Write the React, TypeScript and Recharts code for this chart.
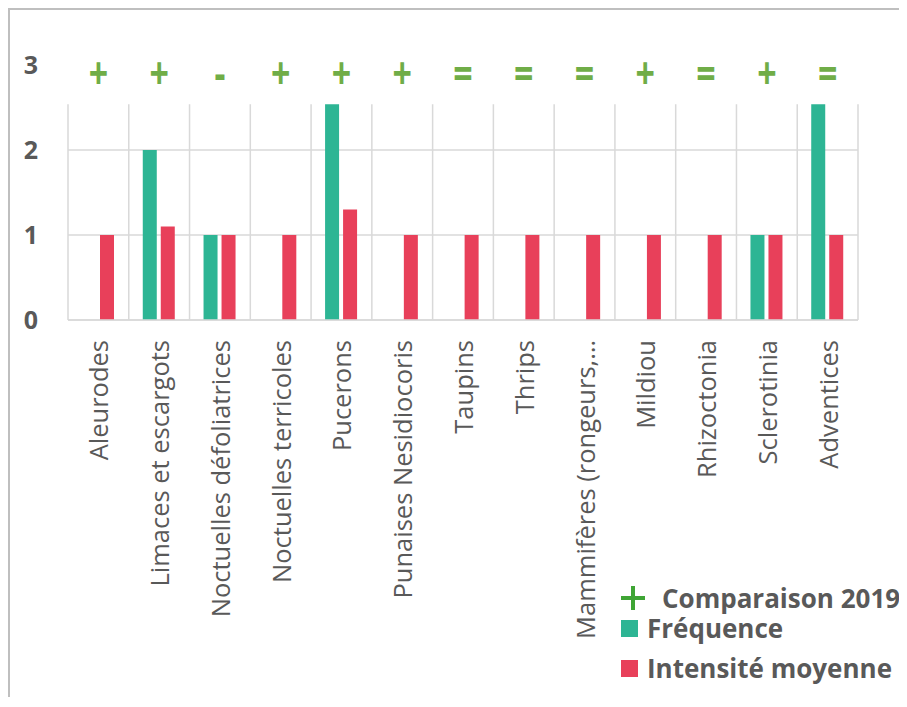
import React from "react";
import {
  ComposedChart,
  Bar,
  Scatter,
  XAxis,
  YAxis,
  CartesianGrid,
  ReferenceArea,
  Legend,
} from "recharts";

const categories = [
  "Aleurodes",
  "Limaces et escargots",
  "Noctuelles défoliatrices",
  "Noctuelles terricoles",
  "Pucerons",
  "Punaises Nesidiocoris",
  "Taupins",
  "Thrips",
  "Mammifères (rongeurs,…",
  "Mildiou",
  "Rhizoctonia",
  "Sclerotinia",
  "Adventices",
];
const frequence = [0, 2, 1, 0, 3, 0, 0, 0, 0, 0, 0, 1, 3];
const intensite = [1, 1.1, 1, 1, 1.3, 1, 1, 1, 1, 1, 1, 1, 1];
const comparaison = ["+", "+", "-", "+", "+", "+", "=", "=", "=", "+", "=", "+", "="];
const yTicks = [0, 1, 2, 3];

const Y_MAX = 3;
// the band holding the +/=/- markers hides the plot above this value
const PLOT_TOP = 2.55;

const data = categories.map((name, i) => ({
  name,
  frequence: frequence[i],
  intensite: intensite[i],
  comparaison: comparaison[i],
}));

const TEAL = "#2db594";
const RED = "#e8405a";
const GREEN = "#70ad47";
const LEGEND_GREEN = "#3fa535";
const TEXT = "#595959";
const GRID = "#d9d9d9";
const FONT = "'Open Sans', sans-serif";

function ClippedBar(props: any) {
  const { x, y, width, height, fill, background } = props;
  if (!height || height <= 0) return null;
  let top = y;
  if (background && background.height) {
    const capY = background.y + background.height * (1 - PLOT_TOP / Y_MAX);
    top = Math.max(y, capY);
  }
  return <rect x={x} y={top} width={width} height={y + height - top} fill={fill} />;
}

function MarkerShape(props: any) {
  const { cx, cy, payload } = props;
  if (cx == null || cy == null) return null;
  return (
    <text
      transform={`translate(${cx},${cy + 7}) scale(1,1.3)`}
      textAnchor="middle"
      dominantBaseline="central"
      fontFamily={FONT}
      fontWeight={700}
      fontSize={34}
      fill={GREEN}
    >
      {payload.comparaison}
    </text>
  );
}

function YTick({ x, y, payload }: any) {
  return (
    <text
      x={x - 30}
      y={y}
      dy="0.35em"
      textAnchor="end"
      fontFamily={FONT}
      fontWeight={700}
      fontSize={25}
      fill={TEXT}
    >
      {payload.value}
    </text>
  );
}

function XTick({ x, y, payload }: any) {
  return (
    <text
      transform={`translate(${x},${y + 20}) rotate(-90)`}
      textAnchor="end"
      dominantBaseline="central"
      fontFamily={FONT}
      fontSize={25.5}
      fill={TEXT}
    >
      {payload.value}
    </text>
  );
}

function LegendContent({ payload }: any) {
  const items = [...(payload || [])].sort(
    (a: any, b: any) => (a.type === "cross" ? -1 : 0) - (b.type === "cross" ? -1 : 0)
  );
  const rowTops = [0, 4, 14];
  return (
    <div
      style={{
        fontFamily: FONT,
        fontWeight: 700,
        fontSize: 26,
        color: TEXT,
        lineHeight: "26px",
      }}
    >
      {items.map((entry: any, i: number) => (
        <div
          key={entry.value}
          style={{
            display: "flex",
            alignItems: "center",
            height: 26,
            marginTop: rowTops[i],
            whiteSpace: "nowrap",
          }}
        >
          {entry.type === "cross" ? (
            <svg width={26} height={26}>
              <line x1={13} y1={1} x2={13} y2={25} stroke={LEGEND_GREEN} strokeWidth={4} />
              <line x1={1} y1={13} x2={25} y2={13} stroke={LEGEND_GREEN} strokeWidth={4} />
            </svg>
          ) : (
            <span
              style={{
                display: "inline-block",
                width: 17,
                height: 17,
                marginLeft: 1,
                background: entry.color,
              }}
            />
          )}
          <span style={{ marginLeft: entry.type === "cross" ? 16 : 9 }}>{entry.value}</span>
        </div>
      ))}
    </div>
  );
}

export default function App() {
  const verticalLines = ({ offset }: any) =>
    categories
      .map((_, i) => offset.left + (offset.width * i) / categories.length)
      .concat(offset.left + offset.width);

  return (
    <div
      style={{
        position: "relative",
        width: 897,
        height: 687,
        borderLeft: "2px solid #bfbfbf",
        borderTop: "2px solid #bfbfbf",
        fontFamily: FONT,
      }}
    >
      <ComposedChart
        width={897}
        height={687}
        data={data}
        margin={{ top: 55, right: 49, bottom: 77, left: 0 }}
        barGap={4}
        barSize={14}
      >
        <CartesianGrid
          stroke={GRID}
          strokeWidth={1.5}
          verticalCoordinatesGenerator={verticalLines}
        />
        <XAxis
          dataKey="name"
          interval={0}
          height={300}
          tickLine={false}
          tickSize={0}
          tickMargin={0}
          axisLine={{ stroke: GRID, strokeWidth: 1.5 }}
          tick={<XTick />}
        />
        <YAxis
          domain={[0, Y_MAX]}
          ticks={yTicks}
          width={58}
          axisLine={false}
          tickLine={false}
          tickSize={0}
          tickMargin={0}
          tick={<YTick />}
        />
        <Bar
          dataKey="frequence"
          name="Fréquence"
          fill={TEAL}
          shape={<ClippedBar />}
          isAnimationActive={false}
        />
        <Bar
          dataKey="intensite"
          name="Intensité moyenne"
          fill={RED}
          shape={<ClippedBar />}
          isAnimationActive={false}
        />
        <ReferenceArea
          y1={PLOT_TOP}
          y2={Y_MAX}
          fill="#ffffff"
          fillOpacity={1}
          stroke="#ffffff"
          strokeWidth={2}
          ifOverflow="visible"
          zIndex={550}
        />
        <Scatter
          dataKey={() => Y_MAX}
          name="Comparaison 2019"
          legendType="cross"
          fill={LEGEND_GREEN}
          shape={<MarkerShape />}
          isAnimationActive={false}
        />
        <Legend
          layout="horizontal"
          align="center"
          verticalAlign="middle"
          content={<LegendContent />}
          wrapperStyle={{ left: 610, top: 575, width: 287, height: 110 }}
        />
      </ComposedChart>
    </div>
  );
}
